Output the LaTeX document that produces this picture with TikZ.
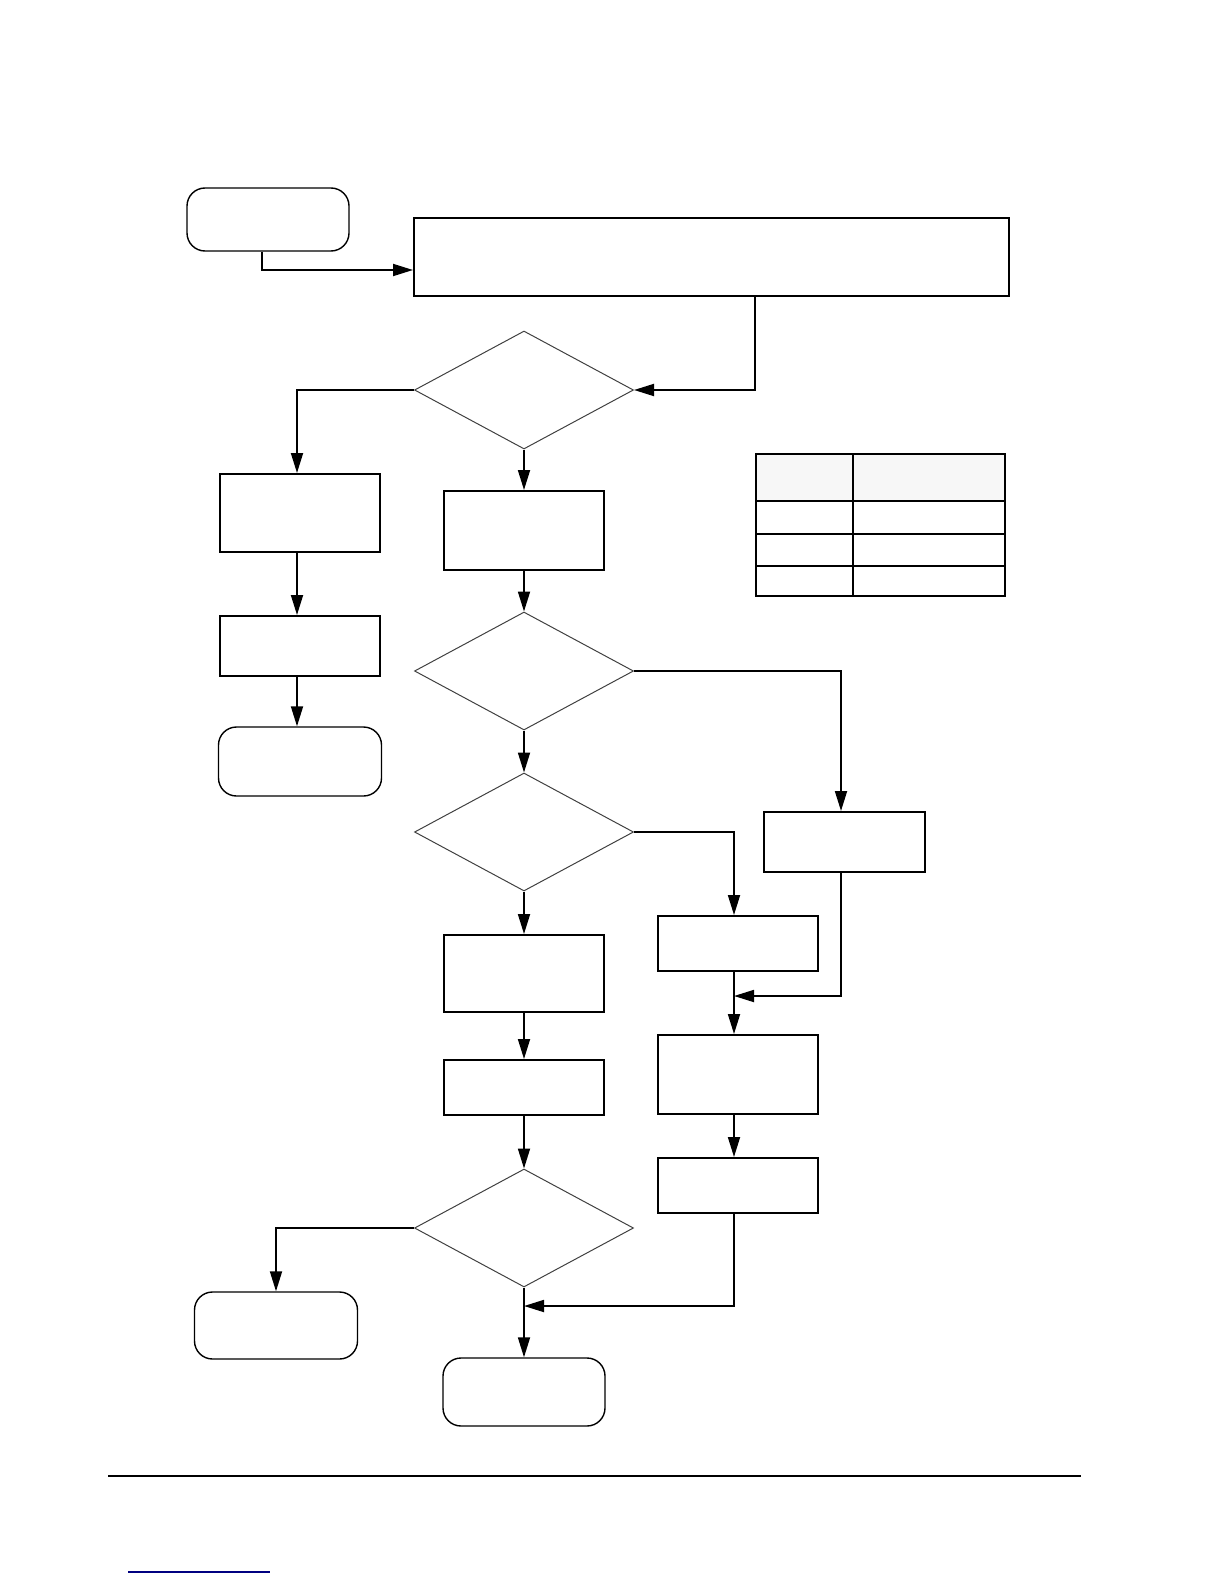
\documentclass[tikz,border=0pt]{standalone}
\usepackage{tikz}
\usetikzlibrary{arrows.meta,shapes.geometric,calc,positioning}

\tikzset{
  proc/.style={draw,line width=1pt,rectangle,inner sep=0pt},
  term/.style={draw,line width=0.7pt,rectangle,rounded corners=9pt,inner sep=0pt},
  decide/.style={draw,line width=0.5pt,black!75,diamond,inner sep=0pt,
                 minimum width=109.5pt,minimum height=59pt},
  flow/.style={line width=0.9pt,-{Triangle[length=10pt,width=6pt]}},
  wire/.style={line width=0.9pt}
}

\begin{document}
\begin{tikzpicture}[x=0.5pt,y=-0.5pt]
 \useasboundingbox (0,0) rectangle (1224,1584);

 % top row
 \node[term,minimum width=81pt,minimum height=31.5pt] (start) at (268,219.5) {};
 \node[proc,minimum width=297.5pt,minimum height=39pt] (setup) at (711.5,257) {};

 % centre column
 \node[decide] (askA) at (524,390) {};
 \node[proc,minimum width=80pt,minimum height=39.5pt] (stepA) at (524,530.5) {};
 \node[decide] (askB) at (524,671) {};
 \node[decide] (askC) at (524,832) {};
 \node[proc,minimum width=80pt,minimum height=38.5pt] (stepB) at (524,973.5) {};
 \node[proc,minimum width=80pt,minimum height=27.5pt] (stepC) at (524,1087.5) {};
 \node[decide] (askD) at (524,1228) {};
 \node[term,minimum width=81pt,minimum height=34pt] (done) at (524,1392) {};

 % left column
 \node[proc,minimum width=80pt,minimum height=39pt] (leftA) at (300,513) {};
 \node[proc,minimum width=80pt,minimum height=30pt] (leftB) at (300,646) {};
 \node[term,minimum width=81.5pt,minimum height=34.5pt] (leftEnd) at (300,761.5) {};
 \node[term,minimum width=81.5pt,minimum height=33.5pt] (failEnd) at (276,1325.5) {};

 % right column
 \node[proc,minimum width=80.5pt,minimum height=30pt] (rightA) at (844.5,842) {};
 \node[proc,minimum width=80pt,minimum height=27.5pt] (rightB) at (738,943.5) {};
 \node[proc,minimum width=80pt,minimum height=39.5pt] (rightC) at (738,1074.5) {};
 \node[proc,minimum width=80pt,minimum height=27.5pt] (rightD) at (738,1185.5) {};

 \coordinate (joinR) at (734,996);
 \coordinate (joinC) at (524,1306);

 % connectors
 \draw[flow] ([xshift=-3pt]start.south) |- ([yshift=-6.5pt]setup.west);
 \draw[flow] ([xshift=21.75pt]setup.south) |- (askA.east);
 \draw[flow] (askA.west) -| ([xshift=-1.5pt]leftA.north);
 \draw[flow] ([xshift=-1.5pt]leftA.south) -- ([xshift=-1.5pt]leftB.north);
 \draw[flow] ([xshift=-1.5pt]leftB.south) -- ([xshift=-1.5pt]leftEnd.north);
 \draw[flow] (askA) -- (stepA);
 \draw[flow] (stepA) -- (askB);
 \draw[flow] (askB.east) -| ([xshift=-1.75pt]rightA.north);
 \draw[flow] (askB) -- (askC);
 \draw[flow] (askC.east) -| ([xshift=-2pt]rightB.north);
 \draw[flow] (askC) -- (stepB);
 \draw[flow] (stepB) -- (stepC);
 \draw[flow] (stepC) -- (askD);
 \draw[flow] (askD.west) -| (failEnd.north);
 \draw[flow] ([xshift=-2pt]rightB.south) -- ([xshift=-2pt]rightC.north);
 \draw[flow] ([xshift=-1.75pt]rightA.south) |- (joinR);
 \draw[flow] ([xshift=-2pt]rightC.south) -- ([xshift=-2pt]rightD.north);
 \draw[flow] ([xshift=-2pt]rightD.south) |- (joinC);
 \draw[flow] (askD) -- (done);

 % table
 \fill[black!3] (756,454) rectangle (1005,501);
 \draw[line width=1pt] (756,454) rectangle (1005,596);
 \draw[line width=1pt] (853,454) -- (853,596);
 \foreach \yy in {501,534,566}
   \draw[line width=1pt] (756,\yy) -- (1005,\yy);

 % footer
 \draw[line width=0.8pt] (108,1476) -- (1081,1476);
 \draw[line width=0.8pt,blue!50!black] (128,1572) -- (270,1572);
\end{tikzpicture}
\end{document}
